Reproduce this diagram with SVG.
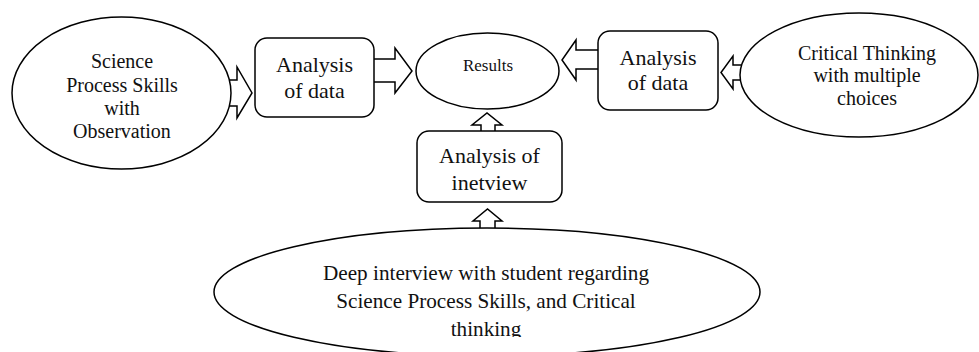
<svg xmlns="http://www.w3.org/2000/svg" width="979" height="352" viewBox="0 0 979 352">
<style>
.shape{fill:#fff;stroke:#000;stroke-width:1.5}
.arrow{fill:#fff;stroke:#000;stroke-width:1.5;stroke-linejoin:miter}
.t{font-family:"Liberation Serif","Times New Roman",serif;fill:#111;text-anchor:middle}
.t20{font-size:20px}
.t21{font-size:21.2px}
.t22{font-size:22px}
.t17{font-size:17px}
</style>
<defs>
<clipPath id="clipBottom"><rect x="200" y="228" width="580" height="109"/></clipPath>
</defs>
<rect width="979" height="352" fill="#fff"/>
<g id="connectors">
<polygon class="arrow" points="226,80 237,80 237,67 252,93 237,118 237,106 226,106"/>
<polygon class="arrow" points="373,59 395,59 395,48 412,71 395,93 395,82 373,82"/>
<polygon class="arrow" points="600,50 576,50 576,40 562,60 576,80 576,69 600,69"/>
<polygon class="arrow" points="746,65 733,65 733,56 721,72.5 733,89 733,80 746,80"/>
<polygon class="arrow" points="481,132 481,125 472,125 487,113 502,125 495,125 495,132"/>
<polygon class="arrow" points="480,232 480,221 473,221 487.5,209 502,221 495,221 495,232"/>
</g>
<g id="node-sps">
<ellipse class="shape" cx="121.5" cy="93" rx="109.5" ry="76"/>
<text class="t t20" x="122" y="68">Science</text>
<text class="t t20" x="122" y="92">Process Skills</text>
<text class="t t20" x="122" y="115">with</text>
<text class="t t20" x="122" y="138">Observation</text>
</g>
<g id="node-analysis-left">
<rect class="shape" x="255" y="38" width="119" height="79" rx="12"/>
<text class="t t22" x="314.5" y="72">Analysis</text>
<text class="t t22" x="314.5" y="98">of data</text>
</g>
<g id="node-results">
<ellipse class="shape" cx="487.5" cy="71" rx="71.5" ry="38"/>
<text class="t t17" x="488" y="71">Results</text>
</g>
<g id="node-analysis-right">
<rect class="shape" x="598" y="31" width="120" height="79" rx="12"/>
<text class="t t22" x="658" y="65">Analysis</text>
<text class="t t22" x="658" y="90">of data</text>
</g>
<g id="node-ct">
<ellipse class="shape" cx="859" cy="75" rx="119" ry="62"/>
<text class="t t20" x="867" y="60">Critical Thinking</text>
<text class="t t20" x="867" y="82">with multiple</text>
<text class="t t20" x="867" y="105">choices</text>
</g>
<g id="node-analysis-interview">
<rect class="shape" x="417" y="131" width="145" height="71" rx="12"/>
<text class="t t22" x="489.5" y="163">Analysis of</text>
<text class="t t22" x="489.5" y="190">inetview</text>
</g>
<g id="node-interview">
<ellipse class="shape" cx="487" cy="292" rx="273" ry="64"/>
<g clip-path="url(#clipBottom)">
<text class="t t21" x="486" y="280">Deep interview with student regarding</text>
<text class="t t21" x="486" y="308">Science Process Skills, and Critical</text>
<text class="t t21" x="486" y="336">thinking</text>
</g>
</g>
</svg>
